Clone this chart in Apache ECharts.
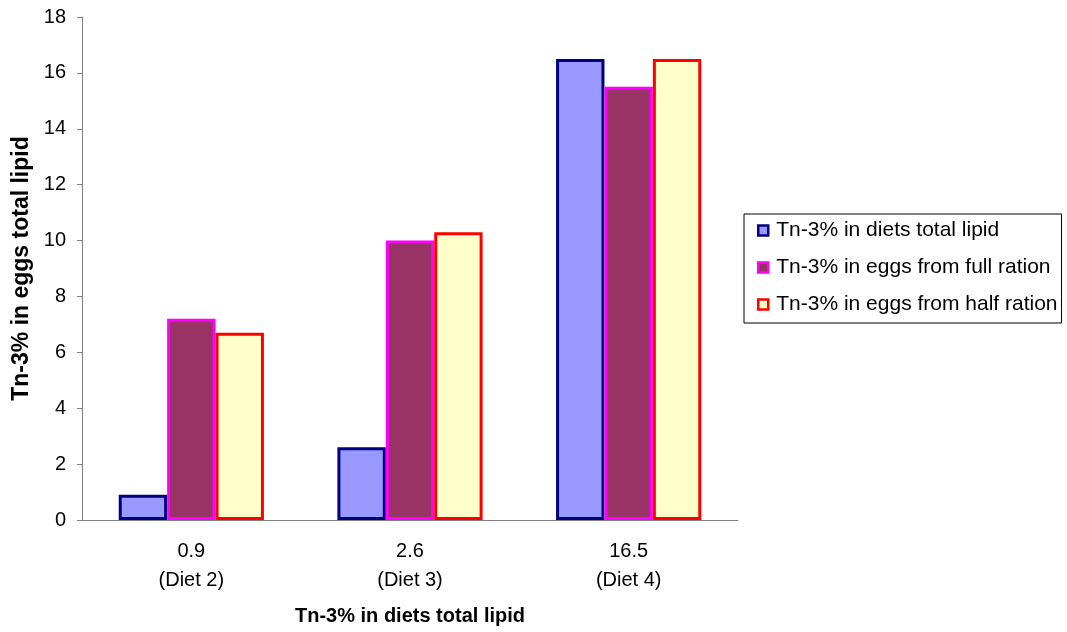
<!DOCTYPE html>
<html>
<head>
<meta charset="utf-8">
<script src="https://cdn.jsdelivr.net/npm/echarts@6/dist/echarts.min.js"></script>
<style>
  html, body { margin: 0; padding: 0; background: #fff; }
  #chart { width: 1067px; height: 632px; }
</style>
</head>
<body>
<div id="chart"></div>
<script>
// Diet categories (Tn-3% in diet, diet number)
const categories = ['0.9\n(Diet 2)', '2.6\n(Diet 3)', '16.5\n(Diet 4)'];
const seriesNames = [
  'Tn-3% in diets total lipid',
  'Tn-3% in eggs from full ration',
  'Tn-3% in eggs from half ration'
];
const dietLipid = [0.9, 2.6, 16.5];
const eggsFullRation = [7.2, 10.0, 15.5];
const eggsHalfRation = [6.7, 10.3, 16.5];
const yTicks = [0, 2, 4, 6, 8, 10, 12, 14, 16, 18];

const FONT = '"Liberation Sans", Arial, sans-serif';

const styles = [
  { fill: '#9999FF', border: '#000080' },
  { fill: '#993366', border: '#FF00FF' },
  { fill: '#FFFFCC', border: '#FF0000' }
];
const values = [dietLipid, eggsFullRation, eggsHalfRation];

const chart = echarts.init(document.getElementById('chart'));
chart.setOption({
  animation: false,
  backgroundColor: '#ffffff',
  grid: { left: 82, right: 329, top: 17, bottom: 112, containLabel: false },
  legend: {
    orient: 'vertical',
    left: 744,
    top: 214,
    padding: [6, 4, 8, 13],
    itemGap: 16,
    itemWidth: 10,
    itemHeight: 10,
    icon: 'rect',
    borderColor: '#000000',
    borderWidth: 1,
    itemStyle: { borderWidth: 2.5 },
    textStyle: { fontFamily: FONT, fontSize: 21, color: '#000', padding: [0, 0, 0, 3] },
    data: seriesNames
  },
  xAxis: {
    type: 'category',
    data: categories,
    name: 'Tn-3% in diets total lipid',
    nameLocation: 'middle',
    nameGap: 86,
    nameTextStyle: { fontFamily: FONT, fontSize: 20, fontWeight: 'bold', color: '#000' },
    axisLine: { lineStyle: { color: '#808080', width: 1 } },
    axisTick: { show: false },
    axisLabel: { fontFamily: FONT, fontSize: 20, color: '#000', lineHeight: 29, margin: 17 }
  },
  yAxis: {
    type: 'value',
    min: 0,
    max: 18,
    interval: 2,
    name: 'Tn-3% in eggs total lipid',
    nameLocation: 'middle',
    nameGap: 47,
    nameTextStyle: { fontFamily: FONT, fontSize: 23, fontWeight: 'bold', color: '#000' },
    axisLine: { show: true, lineStyle: { color: '#808080', width: 1 } },
    axisTick: { show: true, length: 5, lineStyle: { color: '#808080' } },
    splitLine: { show: false },
    axisLabel: {
      fontFamily: FONT, fontSize: 20, color: '#000', margin: 16,
      formatter: v => (yTicks.includes(v) ? String(v) : '')
    }
  },
  series: values.map((data, i) => ({
    name: seriesNames[i],
    type: 'bar',
    data: data,
    barGap: '0%',
    barCategoryGap: '33.6%',
    itemStyle: {
      color: styles[i].fill,
      borderColor: styles[i].border,
      borderWidth: 3
    }
  }))
});
</script>
</body>
</html>
